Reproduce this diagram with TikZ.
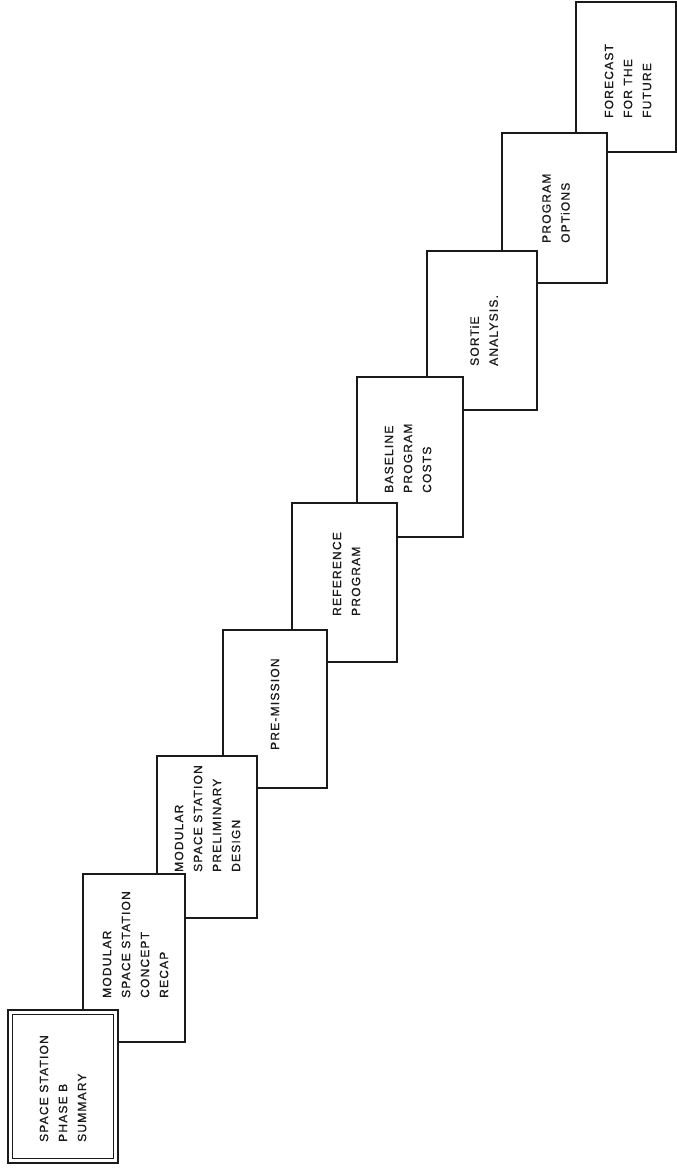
\documentclass[tikz,border=0pt]{standalone}
\usepackage{fontspec}
\usepackage{tikz}
\newfontfamily\stagefont[LetterSpace=10, FakeBold=0.8]{Liberation Sans}
\definecolor{inkline}{HTML}{1A1A1A}
\definecolor{paper}{HTML}{FFFFFF}
\tikzstyle{stagebox} = [line width=1.1pt, draw=inkline, fill=paper]
\tikzstyle{stagelabel} = [rotate=90, anchor=west, align=left, inner sep=0pt, text=inkline, font=\stagefont\fontsize{12}{19}\selectfont]

\begin{document}
\begin{tikzpicture}[x=1pt, y=-1pt]
    \useasboundingbox[fill=paper] (0,0) rectangle (677,1171);
    % last stage first, so every box tucks under the one before it
    \foreach \xa/\ya/\xb/\yb in {576/2/676/152, 502/133/607/283, 427/251/537/410, 357/377/463/537, 292/503/397/662, 223/630/327/788, 157/756/257/918, 83/874/185/1042}
        \draw[stagebox] (\xa,\ya) rectangle (\xb,\yb);
    % first stage gets the heavy double frame
    \draw[stagebox, line width=2.4pt] (8,1010) rectangle (118,1163);
    \draw[inkline, line width=0.8pt] (12.5,1014.5) rectangle (113.5,1158.5);

    \node[stagelabel] (summary) at (63,1142) {SPACE STATION\\PHASE B\\SUMMARY};
    \node[stagelabel] (recap) at (135.5,998) {MODULAR\\SPACE STATION\\CONCEPT\\RECAP};
    \node[stagelabel] (prelim) at (207.5,872) {MODULAR\\SPACE STATION\\PRELIMINARY\\DESIGN};
    \node[stagelabel] (premission) at (275,750) {PRE-MISSION};
    \node[stagelabel] (reference) at (346.5,616) {REFERENCE\\PROGRAM};
    \node[stagelabel] (baseline) at (408,493) {BASELINE\\PROGRAM\\COSTS};
    \node[stagelabel] (sortie) at (484,366) {SORTiE\\ANALYSIS.};
    \node[stagelabel] (options) at (556,243) {PROGRAM\\OPTiONS};
    \node[stagelabel] (forecast) at (628,118) {FORECAST\\FOR THE\\FUTURE};
\end{tikzpicture}
\end{document}
